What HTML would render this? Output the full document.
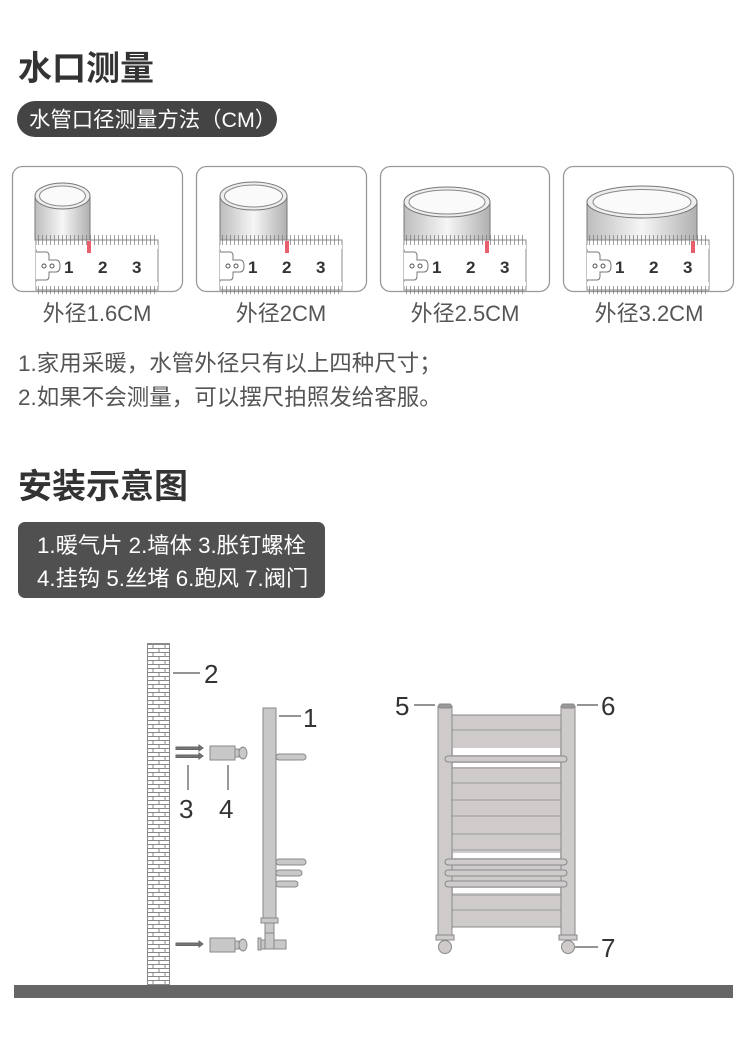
<!DOCTYPE html>
<html><head><meta charset="utf-8"><style>
html,body{margin:0;padding:0;background:#fff;}
svg{display:block}
text{font-family:"Liberation Sans","Noto Sans CJK SC",sans-serif;}
</style></head><body>
<svg width="750" height="1051" viewBox="0 0 750 1051" xmlns="http://www.w3.org/2000/svg">
<defs>
<linearGradient id="cyl" x1="0" x2="1" y1="0" y2="0">
<stop offset="0" stop-color="#bdbdbd"/><stop offset="0.5" stop-color="#f6f6f6"/><stop offset="1" stop-color="#b0b0b0"/></linearGradient>
<pattern id="brick" width="12" height="8" patternUnits="userSpaceOnUse">
<rect width="12" height="8" fill="#fff"/>
<path d="M0 0.5H12M0 4.5H12M3 0.5V4.5M9 4.5V8.5" stroke="#888" stroke-width="1" fill="none"/>
</pattern>
<g id="ruler">
<rect x="0" y="0" width="122" height="50" fill="#fff" stroke="#888" stroke-width="1"/>
<line x1="2" y1="0" x2="122" y2="0" stroke="#777" stroke-width="10" stroke-dasharray="1 3" opacity="0.7"/>
<rect x="0" y="5" width="122" height="4" fill="#fff"/>
<line x1="2" y1="50" x2="122" y2="50" stroke="#777" stroke-width="8" stroke-dasharray="1 3" opacity="0.7"/>
<rect x="0" y="42" width="122" height="4" fill="#fff"/>
<path d="M0 12H10Q13 12 13 16V20H20Q24 20 24 26Q24 32 20 32H13V36Q13 40 10 40H0" fill="#fff" stroke="#777"/>
<circle cx="8" cy="26" r="2" fill="none" stroke="#555"/><circle cx="16" cy="26" r="2" fill="none" stroke="#555"/>
</g>
</defs>

<text x="18" y="80" font-size="34" font-weight="bold" fill="#333">水口测量</text>
<rect x="17" y="101" width="260" height="36" rx="18" fill="#444"/>
<text x="29" y="127" font-size="21.4" fill="#fff">水管口径测量方法（CM）</text>

<g stroke="#999" stroke-width="1.3" fill="#fff">
<rect x="12.5" y="166.5" width="170" height="125" rx="10"/>
<rect x="196.5" y="166.5" width="170" height="125" rx="10"/>
<rect x="380.5" y="166.5" width="169" height="125" rx="10"/>
<rect x="563.5" y="166.5" width="170" height="125" rx="10"/>
</g>

<rect x="35" y="196" width="55" height="44" fill="url(#cyl)" stroke="#777"/>
<ellipse cx="62.5" cy="196" rx="27.5" ry="13" fill="#eee" stroke="#777"/>
<ellipse cx="62.5" cy="196" rx="23" ry="10" fill="#fafafa" stroke="#888"/>
<use href="#ruler" x="36" y="240"/>
<rect x="87" y="241" width="4" height="12" fill="#e8606e"/>
<g font-size="17" font-weight="bold" fill="#333"><text x="64" y="273">1</text><text x="98" y="273">2</text><text x="132" y="273">3</text></g>

<rect x="220" y="196" width="67" height="44" fill="url(#cyl)" stroke="#777"/>
<ellipse cx="253.5" cy="196" rx="33.5" ry="14" fill="#eee" stroke="#777"/>
<ellipse cx="253.5" cy="196" rx="29" ry="11" fill="#fafafa" stroke="#888"/>
<use href="#ruler" x="220" y="240"/>
<rect x="285" y="241" width="4" height="12" fill="#e8606e"/>
<g font-size="17" font-weight="bold" fill="#333"><text x="248" y="273">1</text><text x="282" y="273">2</text><text x="316" y="273">3</text></g>

<rect x="404" y="202" width="86" height="38" fill="url(#cyl)" stroke="#777"/>
<ellipse cx="447" cy="202" rx="43" ry="15" fill="#eee" stroke="#777"/>
<ellipse cx="447" cy="202" rx="38" ry="12" fill="#fafafa" stroke="#888"/>
<use href="#ruler" x="404" y="240"/>
<rect x="485" y="241" width="4" height="12" fill="#e8606e"/>
<g font-size="17" font-weight="bold" fill="#333"><text x="432" y="273">1</text><text x="466" y="273">2</text><text x="500" y="273">3</text></g>

<rect x="587" y="202" width="110" height="38" fill="url(#cyl)" stroke="#777"/>
<ellipse cx="642" cy="202" rx="55" ry="16" fill="#eee" stroke="#777"/>
<ellipse cx="642" cy="202" rx="49" ry="12.5" fill="#fafafa" stroke="#888"/>
<use href="#ruler" x="587" y="240"/>
<rect x="691" y="241" width="4" height="12" fill="#e8606e"/>
<g font-size="17" font-weight="bold" fill="#333"><text x="615" y="273">1</text><text x="649" y="273">2</text><text x="683" y="273">3</text></g>

<g font-size="22" fill="#555" text-anchor="middle">
<text x="97" y="321">外径1.6CM</text>
<text x="281" y="321">外径2CM</text>
<text x="465" y="321">外径2.5CM</text>
<text x="649" y="321">外径3.2CM</text>
</g>

<g font-size="22.5" fill="#555">
<text x="18" y="371">1.家用采暖，水管外径只有以上四种尺寸；</text>
<text x="18" y="405">2.如果不会测量，可以摆尺拍照发给客服。</text>
</g>

<text x="18" y="498" font-size="34" font-weight="bold" fill="#333">安装示意图</text>
<rect x="18" y="522" width="307" height="76" rx="7" fill="#505050"/>
<g font-size="22.3" fill="#fff">
<text x="37" y="553">1.暖气片 2.墙体 3.胀钉螺栓</text>
<text x="37" y="586">4.挂钩 5.丝堵 6.跑风 7.阀门</text>
</g>

<rect x="147.5" y="643.5" width="22" height="342" fill="url(#brick)" stroke="#888"/>
<rect x="14" y="985" width="719" height="13" fill="#666"/>

<g stroke="#555" stroke-width="1.2" fill="none">
<line x1="173" y1="673" x2="200" y2="673"/>
<line x1="279" y1="716" x2="301" y2="716"/>
<line x1="188" y1="765" x2="188" y2="790"/>
<line x1="228" y1="765" x2="228" y2="790"/>
<line x1="414" y1="705" x2="435" y2="705"/>
<line x1="577" y1="705" x2="598" y2="705"/>
<line x1="575" y1="947" x2="598" y2="947"/>
</g>
<g font-size="26" fill="#333">
<text x="204" y="683">2</text><text x="303" y="727">1</text>
<text x="179" y="818">3</text><text x="219" y="818">4</text>
<text x="395" y="715">5</text><text x="601" y="715">6</text><text x="601" y="957">7</text>
</g>

<g fill="#777" stroke="#666">
<rect x="176" y="747" width="24" height="2.5"/><path d="M199 745L203 748L199 751Z"/>
<rect x="176" y="755" width="24" height="2.5"/><path d="M199 753L203 756L199 759Z"/>
<rect x="176" y="943" width="24" height="2.5"/><path d="M199 941L203 944L199 947Z"/>
</g>
<g fill="#c8c8c8" stroke="#888">
<rect x="210" y="746" width="25" height="14"/><rect x="235" y="749" width="4" height="8"/><ellipse cx="243" cy="753" rx="4" ry="6"/>
<rect x="210" y="938" width="25" height="14"/><rect x="235" y="941" width="4" height="8"/><ellipse cx="243" cy="945" rx="4" ry="6"/>
</g>

<g fill="#c8c8c8" stroke="#888" stroke-width="1">
<rect x="263" y="708" width="13" height="210"/>
<rect x="276" y="754" width="30" height="6" rx="3"/>
<rect x="276" y="859" width="30" height="6" rx="3"/>
<rect x="276" y="870" width="26" height="6" rx="3"/>
<rect x="276" y="881" width="22" height="6" rx="3"/>
<rect x="261" y="918" width="17" height="5"/>
<rect x="265" y="923" width="9" height="10"/>
<rect x="258" y="938" width="3" height="12"/>
<rect x="261" y="940" width="25" height="9"/>
<rect x="265" y="933" width="9" height="16"/>
</g>

<g fill="#d0cbcb" stroke="#888" stroke-width="1">
<rect x="452" y="715" width="109" height="212"/>
</g>
<g stroke="#999" stroke-width="1">
<line x1="452" y1="730" x2="561" y2="730"/>
<line x1="452" y1="768" x2="561" y2="768"/>
<line x1="452" y1="783" x2="561" y2="783"/>
<line x1="452" y1="800" x2="561" y2="800"/>
<line x1="452" y1="816" x2="561" y2="816"/>
<line x1="452" y1="834" x2="561" y2="834"/>
<line x1="452" y1="850" x2="561" y2="850"/>
<line x1="452" y1="895" x2="561" y2="895"/>
<line x1="452" y1="910" x2="561" y2="910"/>
</g>
<g fill="#fff" stroke="none">
<rect x="453" y="748" width="107" height="7"/>
<rect x="453" y="763" width="107" height="4"/>
<rect x="453" y="853" width="107" height="5"/>
<rect x="453" y="888" width="107" height="5"/>
</g>
<g fill="#d0cbcb" stroke="#888" stroke-width="1">
<rect x="438" y="706" width="14" height="229"/>
<rect x="561" y="706" width="14" height="229"/>
<rect x="439" y="704" width="12" height="4" rx="1" fill="#999"/>
<rect x="562" y="704" width="12" height="4" rx="1" fill="#999"/>
<rect x="445" y="756" width="122" height="6" rx="3"/>
<rect x="445" y="859" width="122" height="6" rx="3"/>
<rect x="445" y="870" width="122" height="6" rx="3"/>
<rect x="445" y="881" width="122" height="6" rx="3"/>
<rect x="436" y="935" width="18" height="5"/>
<rect x="559" y="935" width="18" height="5"/>
<circle cx="445" cy="947" r="6.5"/>
<circle cx="568" cy="947" r="6.5"/>
</g>
</svg>
</body></html>
